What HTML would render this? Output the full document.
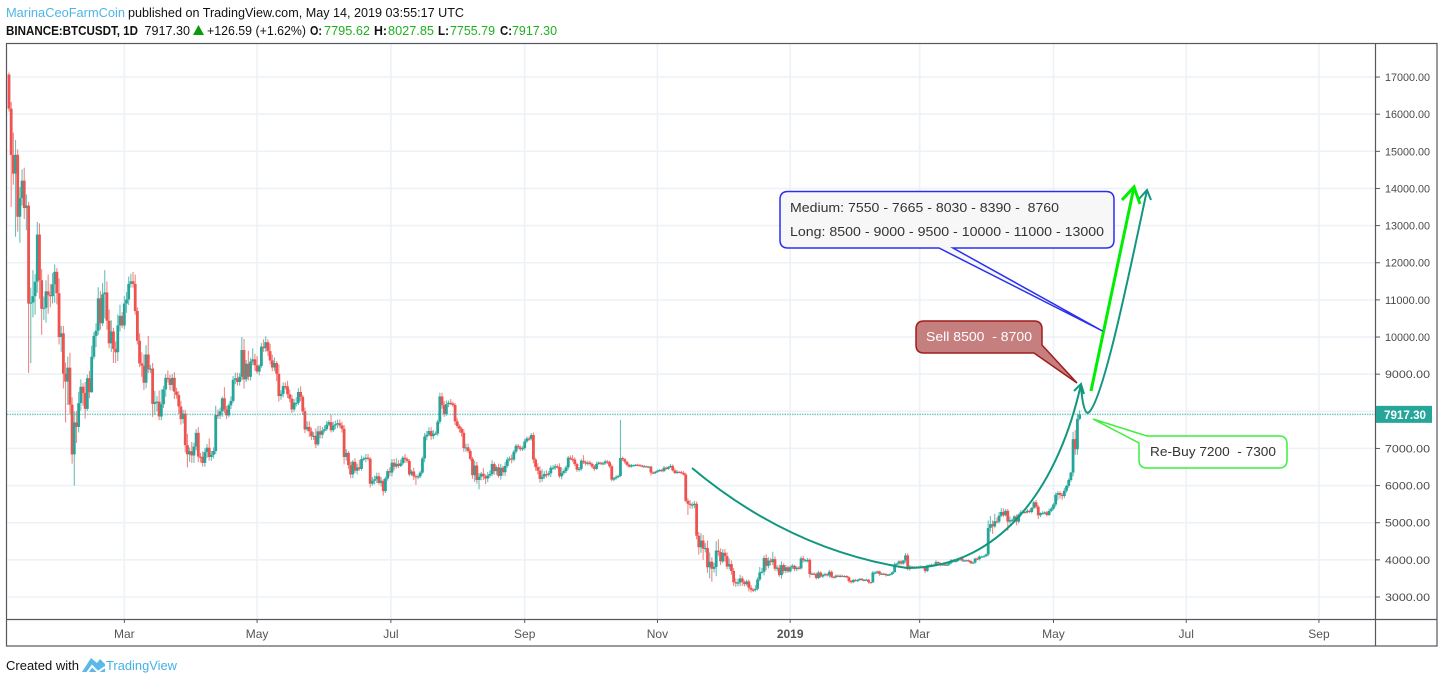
<!DOCTYPE html>
<html lang="en"><head><meta charset="utf-8"><title>BINANCE:BTCUSDT 1D</title>
<style>
html,body{margin:0;padding:0;background:#fff;width:1444px;height:683px;overflow:hidden}
svg{display:block;font-family:"Liberation Sans",sans-serif}
#candles{filter:blur(.25px)}
</style></head>
<body>
<svg id="chart" xmlns="http://www.w3.org/2000/svg" width="1444" height="683" viewBox="0 0 1444 683">
<defs><clipPath id="plot-clip"><rect x="7" y="44" width="1368" height="575"/></clipPath></defs>
<rect width="1444" height="683" fill="#fff"/>

<g font-size="13">
<text x="6" y="17" fill="#4db5e6" textLength="119" lengthAdjust="spacingAndGlyphs">MarinaCeoFarmCoin</text>
<text x="128" y="17" fill="#111" textLength="336" lengthAdjust="spacingAndGlyphs">published on TradingView.com, May 14, 2019 03:55:17 UTC</text>
<text x="6" y="35" fill="#111" font-weight="700" textLength="132" lengthAdjust="spacingAndGlyphs">BINANCE:BTCUSDT, 1D</text>
<text x="144.5" y="35" fill="#111" textLength="45.5" lengthAdjust="spacingAndGlyphs">7917.30</text>
<path d="M193 35 L198.5 25 L204 35 Z" fill="#0a9a0a"/>
<text x="207" y="35" fill="#111" textLength="99" lengthAdjust="spacingAndGlyphs">+126.59 (+1.62%)</text>
<text x="310" y="35" fill="#111" font-weight="700" textLength="12" lengthAdjust="spacingAndGlyphs">O:</text>
<text x="324" y="35" fill="#1fb01f" textLength="46" lengthAdjust="spacingAndGlyphs">7795.62</text>
<text x="374" y="35" fill="#111" font-weight="700" textLength="13" lengthAdjust="spacingAndGlyphs">H:</text>
<text x="388" y="35" fill="#1fb01f" textLength="46" lengthAdjust="spacingAndGlyphs">8027.85</text>
<text x="438" y="35" fill="#111" font-weight="700" textLength="11" lengthAdjust="spacingAndGlyphs">L:</text>
<text x="450" y="35" fill="#1fb01f" textLength="45" lengthAdjust="spacingAndGlyphs">7755.79</text>
<text x="500" y="35" fill="#111" font-weight="700" textLength="12" lengthAdjust="spacingAndGlyphs">C:</text>
<text x="512" y="35" fill="#1fb01f" textLength="45" lengthAdjust="spacingAndGlyphs">7917.30</text>
</g>

<g id="grid"></g>
<g id="candles" clip-path="url(#plot-clip)"></g>
<g id="last-line"></g>

<g fill="none">
<path d="M692 468 Q790 550 907 568 C1005 568 1060 480 1081 384" stroke="#12977f" stroke-width="2"/>
<path d="M1074 391 L1081 384 L1084 394" stroke="#12977f" stroke-width="2"/>
<path d="M1081 386 Q1083 413 1088 413 C1102 405 1128 280 1147 190" stroke="#12977f" stroke-width="2"/>
<path d="M1139 199 L1147 190 L1151 200" stroke="#12977f" stroke-width="2"/>
<path d="M1091 391 L1134 187 M1122 200 L1134 187 L1140 204" stroke="#00ee00" stroke-width="3"/>

<g>
<path d="M788 191.5 H1106 Q1114 191.5 1114 199.5 V240 Q1114 248 1106 248 H953 L1102.5 331 L939 248 H788 Q780 248 780 240 V199.5 Q780 191.5 788 191.5 Z" fill="#f7f7f7" stroke="#2a2ff0" stroke-width="1.5"/>
<text x="790" y="212" fill="#333" font-size="13" stroke="none" textLength="269" lengthAdjust="spacingAndGlyphs" xml:space="preserve">Medium: 7550 - 7665 - 8030 - 8390 -  8760</text>
<text x="790" y="236" fill="#333" font-size="13" stroke="none" textLength="314" lengthAdjust="spacingAndGlyphs">Long: 8500 - 9000 - 9500 - 10000 - 11000 - 13000</text>
</g>

<g>
<path d="M924 321 H1034 Q1042 321 1042 329 V345 L1077 383 L1034 353 H924 Q916 353 916 345 V329 Q916 321 924 321 Z" fill="#c67f7f" stroke="#a01c1c" stroke-width="1.5"/>
<text x="926" y="341" fill="#fff" font-size="13" stroke="none" textLength="106" lengthAdjust="spacingAndGlyphs" xml:space="preserve">Sell 8500  - 8700</text>
</g>

<g>
<path d="M1147 436 H1279 Q1287 436 1287 444 V460 Q1287 468 1279 468 H1147 Q1139 468 1139 460 V443 L1093 419 Z" fill="#fff" stroke="#3fee3f" stroke-width="1.5"/>
<text x="1150" y="456" fill="#333" font-size="13" stroke="none" textLength="126" lengthAdjust="spacingAndGlyphs" xml:space="preserve">Re-Buy 7200  - 7300</text>
</g>
</g>

<g stroke="#55585f" stroke-width="1.2" fill="none">
<rect x="6.5" y="43.5" width="1430.5" height="602.5"/>
<line x1="1375.5" y1="43.5" x2="1375.5" y2="646"/>
<line x1="6.5" y1="619.5" x2="1437" y2="619.5"/>
</g>
<g id="axes"></g>

<g>
<text x="6" y="670" fill="#111" font-size="13" textLength="73" lengthAdjust="spacingAndGlyphs">Created with</text>
<g>
<path d="M82 672 L91 658 L97 663 L100 659 L105 664 V672 Z" fill="#5bb8e8"/>
<path d="M87 673 L92 666 L98 672 L105 667" fill="none" stroke="#fff" stroke-width="2"/>
</g>
<text x="106" y="670" fill="#45b0e6" font-size="13" textLength="71" lengthAdjust="spacingAndGlyphs">TradingView</text>
</g>
</svg>

<script>
const firstOpen = 17069;
const closes = [
16150,14902,14400,14907,13238,13740,14210,13474,13539,10900,10930,11100,11490,12760,11530,10760,10790,11230,11130,11100,11420,11755,11180,10000,10100,
9014,8800,9174,8180,6840,7700,7580,8220,8660,8490,8065,8890,8515,9470,10030,10170,11040,10370,11150,11200,10440,9830,10150,9680,9590,10310,10570,10310,
10900,11010,11430,11500,11430,10700,9900,9290,9230,8770,9530,9130,9150,8200,8250,8260,7860,8190,8590,8900,8880,8710,8900,8530,8440,8130,7790,7940,7090,6840,6925,
6810,7050,7420,6780,6775,6610,6900,7020,6770,6830,6930,7900,7890,8000,8350,8050,7890,8160,8280,8850,8890,8790,8930,9650,8860,9280,8930,9340,9400,9240,
9070,9220,9740,9700,9860,9620,9370,9180,9300,9010,8410,8470,8680,8670,8460,8340,8050,8230,8230,8520,8390,8000,7510,7580,7460,7330,7340,7110,7460,7370,7480,
7520,7640,7710,7490,7620,7650,7680,7620,7530,6770,6880,6550,6300,6640,6400,6490,6450,6710,6730,6750,6720,6050,6130,6170,6250,6070,6130,5850,6190,6390,
6350,6615,6510,6585,6530,6600,6750,6710,6660,6300,6380,6250,6220,6250,6350,6730,7320,7370,7470,7330,7400,7400,7720,8400,8170,7930,8190,8230,8210,8170,7730,
7600,7530,7420,7010,7030,6930,6720,6280,6540,6150,6240,6320,6250,6190,6270,6310,6580,6390,6490,6260,6480,6360,6530,6700,6730,6700,6910,7070,7030,6980,7010,
7190,7270,7260,7360,6700,6500,6400,6180,6240,6310,6290,6330,6480,6480,6520,6500,6250,6340,6390,6490,6750,6720,6700,6580,6430,6450,6670,6630,6590,6620,
6580,6510,6450,6580,6620,6590,6600,6650,6630,6520,6160,6200,6230,6260,6740,6710,6640,6560,6510,6550,6550,6560,6550,6540,6520,6520,6510,6510,6350,6340,6370,
6400,6420,6390,6480,6450,6500,6530,6410,6340,6370,6360,6340,6300,5590,5510,5480,5490,5510,4650,4340,4520,4300,4320,3800,3950,3760,3810,4250,4210,3960,
4190,4100,3820,3885,3700,3400,3370,3390,3500,3400,3345,3420,3250,3200,3195,3220,3470,3660,3680,4050,3840,3980,3940,4020,3760,3790,3590,3860,3700,3800,3690,
3800,3840,3750,3790,3770,4040,3990,3990,4000,3620,3630,3620,3510,3660,3550,3590,3615,3580,3680,3540,3530,3575,3555,3570,3565,3565,3530,3430,3400,3460,3435,
3460,3490,3460,3460,3470,3400,3395,3660,3660,3690,3620,3630,3620,3590,3600,3620,3670,3880,3900,3960,3900,3980,4120,3750,3820,3800,3810,3790,
3810,3820,3790,3700,3850,3860,3870,3860,3940,3915,3870,3880,3865,3870,3915,3990,3960,3970,4010,4040,3980,3985,3990,3970,3915,3930,4035,4020,4090,4090,4100,
4145,4860,4960,4900,5040,5030,5190,5290,5200,5320,5030,5070,5080,5170,5030,5220,5280,5290,5280,5320,5290,5400,5550,5430,5200,5260,5260,5280,5210,5320,
5380,5490,5750,5800,5750,5720,5860,5990,6150,6350,7250,6980,7795.62,7917.3];
const wickUp = [
55,180,600,400,150,300,300,350,300,100,400,700,200,340,300,300,300,300,450,300,300,200,100,400,200,
200,300,300,400,200,300,300,300,200,100,300,100,200,300,100,200,300,200,300,600,300,300,300,100,200,300,300,100,
200,200,200,200,250,250,100,200,300,300,250,500,100,150,300,150,300,400,100,100,200,100,100,150,100,100,150,100,100,300,100,
250,100,100,150,100,150,100,100,250,100,100,250,150,100,50,300,100,50,120,100,150,150,100,350,300,100,350,100,300,150,
250,50,100,200,160,80,200,150,150,50,250,100,100,100,150,130,100,100,150,100,150,50,100,150,150,100,100,200,150,150,100,
100,100,50,200,100,100,100,100,100,100,100,50,100,50,100,100,200,100,50,100,100,50,100,100,100,100,100,50,50,50,
100,100,100,150,100,100,50,100,50,50,50,100,50,50,50,50,100,100,100,100,100,60,50,100,100,100,100,60,100,50,50,
80,50,50,100,100,100,50,50,130,100,100,50,150,50,100,100,100,50,50,100,100,50,100,70,60,100,50,50,50,50,60,
60,50,50,50,70,50,100,120,200,80,100,60,60,70,60,50,100,150,50,50,50,60,100,60,40,50,50,150,50,50,
50,40,50,60,30,20,40,50,40,40,50,30,50,30,1030,40,30,20,30,30,20,20,30,30,20,30,20,20,20,30,30,
30,30,30,50,30,30,50,40,50,50,20,40,50,50,70,100,60,80,60,100,200,150,130,200,250,120,110,250,300,100,
100,100,100,150,100,80,100,100,100,60,50,50,50,70,30,100,60,150,100,70,100,90,70,200,70,60,80,100,50,60,40,
50,50,30,40,40,50,70,30,50,40,30,30,40,50,30,40,40,30,50,30,20,30,30,40,30,20,20,30,30,20,30,
20,20,20,20,20,10,10,40,30,20,20,30,20,20,20,20,20,50,20,30,30,20,60,60,40,20,20,20,
30,30,20,30,20,20,30,20,50,20,20,30,20,30,20,30,30,20,30,20,20,20,20,20,20,20,20,30,30,20,20,
20,200,220,100,200,100,100,100,100,50,50,100,30,30,50,30,60,50,20,50,30,20,40,60,50,20,50,30,30,60,
50,40,60,50,50,60,80,30,50,20,200,250,150,110];
const wickDown = [
80,1400,300,1700,400,700,200,300,600,1865,1600,400,500,300,500,700,300,400,500,300,200,500,300,200,400,
400,1100,630,250,250,840,430,150,200,340,260,50,160,20,70,300,120,170,70,650,240,130,230,380,290,240,160,60,
100,250,150,100,100,100,100,100,300,200,150,100,100,350,300,250,100,100,100,200,100,150,150,200,100,200,150,120,200,350,200,
200,200,100,150,150,100,100,150,100,100,100,80,100,100,150,100,100,50,100,50,120,100,100,100,250,70,100,100,100,150,
60,100,50,100,100,130,100,100,100,200,150,100,100,80,100,100,100,60,100,60,120,100,100,50,150,100,100,100,50,100,100,
50,50,40,60,50,100,100,60,100,200,100,100,100,100,60,100,50,50,50,100,50,100,50,100,100,50,100,120,50,60,
100,100,100,50,60,30,60,100,50,50,40,100,200,50,50,40,100,100,40,100,80,40,60,60,100,80,50,80,50,50,100,
60,100,100,100,100,50,50,100,180,100,250,100,100,150,100,60,60,100,100,50,100,100,100,50,50,100,50,50,60,50,50,
50,40,50,50,100,100,100,100,80,60,80,50,100,50,60,50,50,80,50,60,60,40,60,50,60,50,50,50,50,50,
40,50,60,30,30,40,40,40,50,50,50,40,40,30,30,50,50,40,30,30,20,30,20,20,30,20,20,20,80,30,30,
30,30,30,30,30,30,30,30,30,30,20,20,30,30,300,100,100,100,100,200,150,300,100,150,300,350,100,250,100,100,
50,150,70,80,100,100,100,80,100,100,60,50,100,80,60,50,50,50,30,100,120,70,90,80,60,70,50,100,70,60,40,
30,50,50,60,40,30,60,40,60,100,30,30,40,30,30,40,30,30,60,30,20,30,20,30,20,30,20,50,40,30,20,
30,30,30,20,20,40,30,20,50,40,50,30,30,40,20,20,30,20,20,30,40,30,60,30,40,20,20,20,
30,20,30,60,30,20,30,20,30,20,40,30,30,20,30,30,30,20,30,30,30,20,30,30,30,20,30,30,40,20,20,
30,50,100,200,50,50,50,40,50,30,250,50,50,50,100,50,60,30,30,30,30,40,40,50,100,50,30,40,40,30,
40,40,60,150,100,100,60,50,50,50,100,150,150,40];

const priceTicks = [3000,4000,5000,6000,7000,8000,9000,10000,11000,12000,13000,14000,15000,16000,17000];
const timeTickLabels = ["Mar","May","Jul","Sep","Nov","2019","Mar","May","Jul","Sep"];
const timeTickDays = [53,114,175.5,237,298,359,418.5,480,541,602];
const lastPrice = 7917.3;

function xDay(i){ return 9 + 2.176 * i; }
function yPrice(p){ return 597 - (p - 3000) * 0.03714; }

const NS = "http://www.w3.org/2000/svg";
function make(tag, parent, attrs){
  const el = document.createElementNS(NS, tag);
  for (const k in attrs) el.setAttribute(k, attrs[k]);
  parent.appendChild(el);
  return el;
}
const gridG = document.getElementById("grid");
const candleG = document.getElementById("candles");
const lastG = document.getElementById("last-line");
const axesG = document.getElementById("axes");

priceTicks.forEach(function(p){
  const y = yPrice(p);
  const line = make("line", gridG, {x1:7, x2:1375, y1:y, y2:y, stroke:"#edf2f7", "stroke-width":1.6});
  
  
  const tick = make("line", axesG, {x1:1376, x2:1380, y1:y, y2:y, stroke:"#55585f", "stroke-width":1});
  
  
  const label = make("text", axesG, {x:1385, y:y+4, fill:"#4a4a4a", "font-size":11.2, textLength:45, lengthAdjust:"spacingAndGlyphs"});
  
  
  label.textContent = p.toFixed(2);
});

timeTickDays.forEach(function(d, k){
  const x = xDay(d);
  const line = make("line", gridG, {x1:x, x2:x, y1:44, y2:619, stroke:"#edf2f7", "stroke-width":1.6});
  
  
  const tick = make("line", axesG, {x1:x, x2:x, y1:620, y2:623, stroke:"#55585f", "stroke-width":1});
  
  
  const isYear = timeTickLabels[k] === "2019";
  const label = make("text", axesG, {x:x, y:638, fill:"#555", "font-size":12, "text-anchor":"middle", "font-weight":isYear?700:400});
  
  
  label.textContent = timeTickLabels[k];
});

closes.forEach(function(c, i){
  const o = i === 0 ? firstOpen : closes[i-1];
  const top = Math.max(o, c), bot = Math.min(o, c);
  const hi = top + (wickUp[i] || 0), lo = bot - (wickDown[i] || 0);
  const color = c >= o ? "#26a69a" : "#ef5350";
  const x = xDay(i);
  const wick = make("line", candleG, {x1:x, x2:x, y1:yPrice(hi), y2:yPrice(lo), stroke:color, "stroke-width":1.1, "stroke-opacity":0.7});
  
  
  const yt = yPrice(top);
  const body = make("rect", candleG, {x:x-1.4, y:yt, width:2.8, height:Math.max(1.2, yPrice(bot)-yt), fill:color});
  
  
});

const ly = yPrice(lastPrice);
const lastLine = make("line", lastG, {x1:7, x2:1375, y1:ly, y2:ly, stroke:"#26a69a", "stroke-width":1.5, "stroke-opacity":0.6, "stroke-dasharray":"1.5 1"});


const badge = make("rect", axesG, {x:1376, y:ly-8.5, width:56, height:17, fill:"#26a69a"});


const badgeText = make("text", axesG, {x:1384, y:ly+4.5, fill:"#fff", "font-size":12, "font-weight":700, textLength:42, lengthAdjust:"spacingAndGlyphs"});


badgeText.textContent = lastPrice.toFixed(2);
</script>
</body></html>
